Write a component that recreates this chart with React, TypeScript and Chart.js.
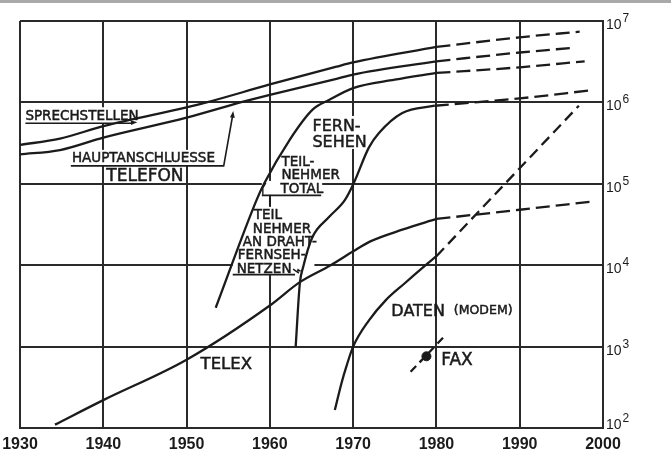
import { useEffect, useRef } from 'react';
import { Chart, registerables } from 'chart.js';

Chart.register(...registerables);

// ---------- data (years, subscribers) ----------
const yearTicks = [1930, 1940, 1950, 1960, 1970, 1980, 1990, 2000];
const powerTicks = [2, 3, 4, 5, 6, 7];

const sprechstellenYears = [1930, 1934.8, 1940, 1950, 1952.4, 1960, 1968, 1970, 1980];
const sprechstellenValues = [3.0e5, 3.6e5, 5.1e5, 8.7e5, 1.0e6, 1.66e6, 2.75e6, 3.1e6, 4.8e6];
const sprechstellenForecastYears = [1980, 1990, 1997.2];
const sprechstellenForecastValues = [4.8e6, 6.3e6, 7.4e6];

const hauptYears = [1930, 1934.8, 1940, 1950, 1956.8, 1960, 1968, 1970, 1980];
const hauptValues = [2.3e5, 2.6e5, 3.7e5, 6.5e5, 1.02e6, 1.24e6, 1.95e6, 2.2e6, 3.2e6];
const hauptForecastYears = [1980, 1990, 1996.6];
const hauptForecastValues = [3.2e6, 4.1e6, 4.7e6];

const tvTotalYears = [1953.5, 1958.4, 1959.3, 1962.4, 1965.1, 1967.1, 1970, 1975, 1980];
const tvTotalValues = [3.0e3, 6.3e4, 1.0e5, 3.5e5, 8.1e5, 1.07e6, 1.5e6, 1.9e6, 2.3e6];
const tvTotalForecastYears = [1980, 1990, 1997.8];
const tvTotalForecastValues = [2.3e6, 2.7e6, 3.2e6];

const cableYears = [1963.1, 1963.6, 1964.0, 1965.1, 1967.1, 1969.0, 1970, 1971.9, 1973.1, 1975.9, 1979.8];
const cableValues = [1.0e3, 6.0e3, 9.5e3, 2.2e4, 3.9e4, 6.3e4, 9.8e4, 2.8e5, 4.2e5, 7.4e5, 9.1e5];
const cableForecastYears = [1979.8, 1990, 1998.6];
const cableForecastValues = [9.1e5, 1.12e6, 1.41e6];

const telexYears = [1934.2, 1940, 1950, 1960, 1963.6, 1967.3, 1970, 1972, 1976, 1980];
const telexValues = [110, 220, 690, 3.2e3, 6.2e3, 1.0e4, 1.48e4, 1.95e4, 2.75e4, 3.7e4];
const telexForecastYears = [1980, 1990, 1998.4];
const telexForecastValues = [3.7e4, 4.8e4, 6.0e4];

const datenYears = [1967.8, 1968.6, 1969.2, 1970, 1971.9, 1973.9, 1976.2, 1978.6, 1980];
const datenValues = [166, 355, 575, 1000, 2.1e3, 3.7e3, 6.0e3, 9.8e3, 1.29e4];
const datenForecastYears = [1980, 1997.1];
const datenForecastValues = [1.29e4, 9.1e5];

const faxYears = [1976.9, 1980.9];
const faxValues = [490, 1320];
const faxPointYears = [1978.8];
const faxPointValues = [760];

const pts = (xs: number[], ys: number[]) => xs.map((x, i) => ({ x, y: ys[i] }));

const INK = '#1b1b1b';
const GRID = '#2a2a2a';
const NARROW = "'Liberation Sans', 'Arial', sans-serif";
const SANS = "'DejaVu Sans', 'Liberation Sans', sans-serif";

// where the grid lines sit in the original drawing (used to anchor the annotations to the grid)
const DRAWN_X_GRID = [23, 100, 183, 266, 352, 437, 523, 603];
const DRAWN_Y_GRID = [428, 346, 264, 183, 99, 21];

function solid(label: string, data: { x: number; y: number }[]) {
  return {
    label,
    data,
    borderColor: INK,
    borderWidth: 2.3,
    pointRadius: 0,
    fill: false,
    cubicInterpolationMode: 'monotone' as const,
  };
}
function dashed(label: string, data: { x: number; y: number }[], dash: number[]) {
  return { ...solid(label, data), borderDash: dash };
}

function segPos(g: number[], p: number) {
  let i = 0;
  const asc = g[1] > g[0];
  while (i < g.length - 2 && (asc ? p > g[i + 1] : p < g[i + 1])) i++;
  return i + (p - g[i]) / (g[i + 1] - g[i]);
}

function makeMappers(chart: any) {
  const xs = chart.scales.x;
  const ys = chart.scales.y;
  const mx = (p: number) => xs.getPixelForValue(1930 + 10 * segPos(DRAWN_X_GRID, p));
  const my = (p: number) => ys.getPixelForValue(Math.pow(10, 2 + segPos(DRAWN_Y_GRID, p)));
  return { mx, my };
}

function arrowHead(ctx: CanvasRenderingContext2D, x1: number, y1: number, x2: number, y2: number, size = 6) {
  const a = Math.atan2(y2 - y1, x2 - x1);
  ctx.beginPath();
  ctx.moveTo(x2, y2);
  ctx.lineTo(x2 - size * Math.cos(a - 0.35), y2 - size * Math.sin(a - 0.35));
  ctx.lineTo(x2 - size * Math.cos(a + 0.35), y2 - size * Math.sin(a + 0.35));
  ctx.closePath();
  ctx.fill();
}

const annotations = {
  id: 'annotations',
  beforeDatasetsDraw(chart: any) {
    const ctx = chart.ctx as CanvasRenderingContext2D;
    const { mx, my } = makeMappers(chart);
    ctx.save();
    ctx.fillStyle = '#ffffff';
    const masks: number[][] = [
      [27, 104, 145, 121],
      [69, 148, 220, 164],
      [306, 113, 370, 147],
      [276, 152, 346, 180],
      [258, 180, 320, 194],
      [229, 206, 312, 273],
    ];
    masks.forEach(([x1, y1, x2, y2]) => {
      const a = mx(x1), b = mx(x2), c = my(y1), d = my(y2);
      ctx.fillRect(a, c, b - a, d - c);
    });
    ctx.restore();
  },
  afterDatasetsDraw(chart: any) {
    const ctx = chart.ctx as CanvasRenderingContext2D;
    const area = chart.chartArea;
    const yScale = chart.scales.y;
    const { mx, my } = makeMappers(chart);
    ctx.save();
    ctx.fillStyle = INK;
    ctx.strokeStyle = INK;
    ctx.textBaseline = 'alphabetic';
    ctx.textAlign = 'left';

    const text = (s: string, x: number, y: number, size: number) => {
      ctx.font = `${size}px ${SANS}`;
      ctx.fillText(s, mx(x), my(y));
      ctx.lineWidth = 0.5;
      ctx.strokeText(s, mx(x), my(y));
    };
    const line = (p: number[][], w = 1.6) => {
      ctx.lineWidth = w;
      ctx.beginPath();
      p.forEach(([x, y], i) => (i ? ctx.lineTo(mx(x), my(y)) : ctx.moveTo(mx(x), my(y))));
      ctx.stroke();
    };
    const arrow = (x1: number, y1: number, x2: number, y2: number, s: number) =>
      arrowHead(ctx, mx(x1), my(y1), mx(x2), my(y2), s);

    // Telefon labels
    text('SPRECHSTELLEN', 28, 117, 13.5);
    line([[28, 120.5], [128, 120.5]]);
    arrow(118, 120.5, 134, 119.5, 7);
    text('HAUPTANSCHLUESSE', 71, 161, 13.5);
    line([[70, 164.5], [220, 164.5], [229, 112]]);
    arrow(228, 120, 229.5, 108, 7);
    text('TELEFON', 103, 180, 17);

    // Fernsehen
    text('FERN-', 310, 129, 16);
    text('SEHEN', 310, 145, 16);
    text('TEIL-', 278, 165, 13.5);
    text('NEHMER', 278, 178.5, 13.5);
    text('TOTAL', 277, 192, 13.5);
    line([[258, 194.5], [319, 194.5]]);
    line([[262, 182], [259, 187], [259, 194]], 1.4);
    line([[266, 197], [266, 205]], 1.8);

    text('TEIL', 250, 218, 13.5);
    text('NEHMER', 249, 232, 13.5);
    text('AN DRAHT-', 239, 245, 13.5);
    text('FERNSEH-', 234, 258, 13.5);
    text('NETZEN', 233, 271.5, 13.5);
    line([[229, 273.5], [292, 273.5]]);
    line([[290, 268], [296, 272]], 1.4);
    arrow(292, 268.5, 299, 270, 5);

    // Telex, Daten, Fax
    text('TELEX', 197, 369, 16.5);
    text('DATEN', 391, 315, 16);
    text('(MODEM)', 455, 313, 12.5);
    text('FAX', 442, 365, 17);

    // Right axis labels: 10^n
    powerTicks.forEach((p) => {
      const gy = yScale.getPixelForValue(Math.pow(10, p));
      const base = Math.min(gy + 8, area.bottom + 1);
      ctx.font = `14px ${NARROW}`;
      ctx.fillText('10', area.right + 3, base);
      const w = ctx.measureText('10').width;
      ctx.font = `12px ${NARROW}`;
      ctx.fillText(String(p), area.right + 4 + w, base - 7);
    });

    // scan edge at top
    ctx.fillStyle = '#a9a9a9';
    ctx.fillRect(0, 0, chart.width, 3);
    ctx.restore();
  },
};

export default function App() {
  const ref = useRef<HTMLCanvasElement | null>(null);

  useEffect(() => {
    document.body.style.margin = '0';
    const canvas = ref.current;
    if (!canvas) return;
    const chart = new Chart(canvas, {
      type: 'line',
      data: {
        datasets: [
          solid('Sprechstellen', pts(sprechstellenYears, sprechstellenValues)),
          dashed('Sprechstellen (Prognose)', pts(sprechstellenForecastYears, sprechstellenForecastValues), [14, 6]),
          solid('Hauptanschlüsse', pts(hauptYears, hauptValues)),
          dashed('Hauptanschlüsse (Prognose)', pts(hauptForecastYears, hauptForecastValues), [14, 6]),
          solid('Fernsehen Teilnehmer total', pts(tvTotalYears, tvTotalValues)),
          dashed('Fernsehen total (Prognose)', pts(tvTotalForecastYears, tvTotalForecastValues), [14, 6]),
          solid('Teilnehmer an Drahtfernsehnetzen', pts(cableYears, cableValues)),
          dashed('Drahtfernsehnetze (Prognose)', pts(cableForecastYears, cableForecastValues), [14, 6]),
          solid('Telex', pts(telexYears, telexValues)),
          dashed('Telex (Prognose)', pts(telexForecastYears, telexForecastValues), [14, 6]),
          solid('Daten (Modem)', pts(datenYears, datenValues)),
          dashed('Daten (Prognose)', pts(datenForecastYears, datenForecastValues), [11, 6]),
          dashed('Fax', pts(faxYears, faxValues), [8, 5]),
          {
            label: 'Fax 1979',
            data: pts(faxPointYears, faxPointValues),
            showLine: false,
            pointRadius: 4.5,
            pointBackgroundColor: INK,
            pointBorderColor: INK,
            borderColor: INK,
          },
        ],
      },
      options: {
        animation: false,
        responsive: false,
        maintainAspectRatio: false,
        events: [],
        layout: { padding: { left: 20, top: 21, right: 0, bottom: 0 } },
        plugins: { legend: { display: false }, tooltip: { enabled: false }, title: { display: false } },
        scales: {
          x: {
            type: 'linear',
            min: 1930,
            max: 2000,
            afterBuildTicks: (s: any) => {
              s.ticks = yearTicks.map((v) => ({ value: v }));
            },
            afterFit: (s: any) => {
              s.height = 38;
              s.paddingLeft = 0;
              s.paddingRight = 0;
            },
            grid: { color: GRID, lineWidth: 2, drawTicks: false },
            border: { display: true, color: GRID, width: 2 },
            ticks: {
              autoSkip: false,
              maxRotation: 0,
              padding: 7,
              color: INK,
              font: { family: NARROW, size: 16, weight: 'bold' },
              callback: (v: any) => String(v),
            },
          },
          y: {
            type: 'logarithmic',
            position: 'right',
            min: 100,
            max: 1e7,
            afterBuildTicks: (s: any) => {
              s.ticks = powerTicks.map((p) => ({ value: Math.pow(10, p) }));
            },
            afterFit: (s: any) => {
              s.width = 68;
            },
            grid: { color: GRID, lineWidth: 2, drawTicks: false },
            border: { display: true, color: GRID, width: 2 },
            ticks: { display: false },
          },
        },
      },
      plugins: [annotations],
    });
    return () => chart.destroy();
  }, []);

  return (
    <div style={{ width: 671, height: 466, background: '#ffffff' }}>
      <canvas ref={ref} width={671} height={466} style={{ display: 'block' }} />
    </div>
  );
}
